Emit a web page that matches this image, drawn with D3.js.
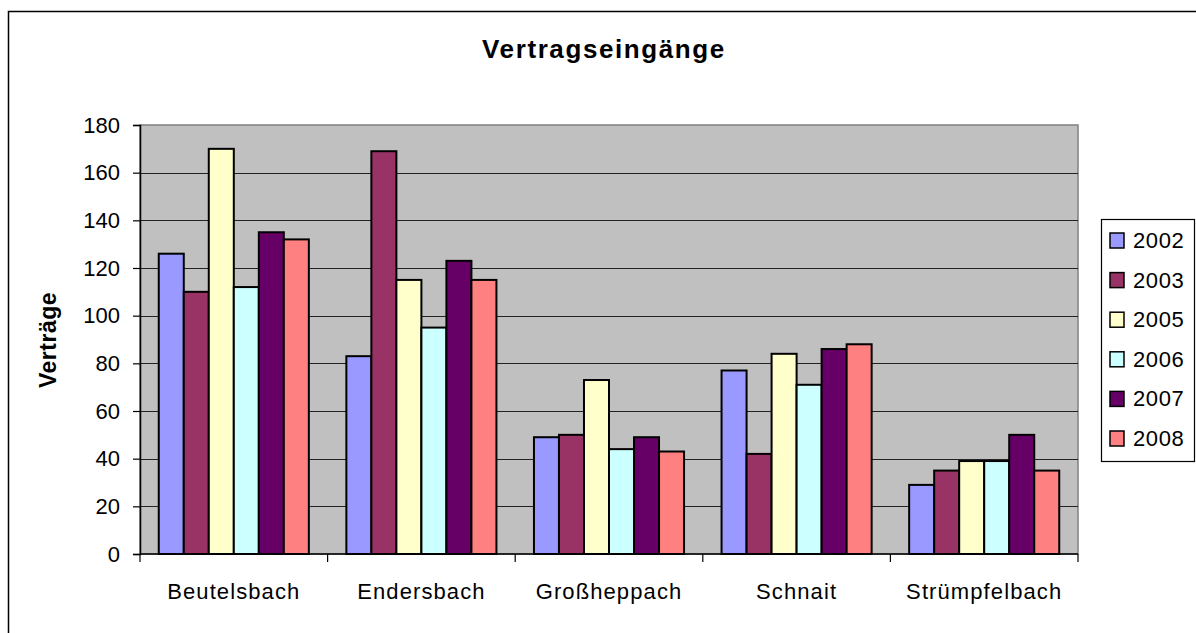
<!DOCTYPE html>
<html lang="de">
  <head>
    <meta charset="utf-8">
    <title>Vertragseingänge</title>
    <script src="https://d3js.org/d3.v7.min.js"></script>
    <style type="text/css">
      body { margin: 0; background: #fff; }
      text { font-family: "Liberation Sans", Arial, sans-serif; fill: #000; }
      .grid line { stroke-width: 1px; shape-rendering: crispEdges; }
      .bar { stroke: #000; stroke-width: 2px; }
    </style>
  </head>
  <body>
    <script>
      var w = 1196;
      var h = 633;

      var categories = ["Beutelsbach", "Endersbach", "Großheppach", "Schnait", "Strümpfelbach"];
      var years = ["2002", "2003", "2005", "2006", "2007", "2008"];
      var colors = ["#9999FF", "#993366", "#FFFFCC", "#CCFFFF", "#660066", "#FF8080"];

      // one array per year, same order as categories
      var v2002 = [126, 83, 49, 77, 29];
      var v2003 = [110, 169, 50, 42, 35];
      var v2005 = [170, 115, 73, 84, 39];
      var v2006 = [112, 95, 44, 71, 39];
      var v2007 = [135, 123, 49, 86, 50];
      var v2008 = [132, 115, 43, 88, 35];
      var yTicks = [0, 20, 40, 60, 80, 100, 120, 140, 160, 180];

      var series = [v2002, v2003, v2005, v2006, v2007, v2008];

      var plotL = 140, plotR = 1078, plotT = 125, plotB = 554;

      var svg = d3.select("body").append("svg")
          .attr("width", w).attr("height", h);

      // outer chart border
      svg.append("rect")
        .attr("x", 8.5).attr("y", 11.5)
        .attr("width", 1300).attr("height", 800)
        .attr("fill", "#fff").attr("stroke", "#000").attr("stroke-width", 1.5);

      var x0 = d3.scaleBand()
        .domain(categories)
        .range([plotL, plotR]);

      var gap = x0.bandwidth() * 0.1;
      var x1 = d3.scaleBand()
        .domain(years)
        .range([gap, x0.bandwidth() - gap]);

      var y = d3.scaleLinear()
        .domain([0, 180])
        .range([plotB, plotT]);

      // plot area
      svg.append("rect")
        .attr("x", plotL).attr("y", plotT)
        .attr("width", plotR - plotL).attr("height", plotB - plotT)
        .attr("fill", "#C0C0C0").attr("stroke", "#808080").attr("stroke-width", 1.5);

      svg.append("g").attr("class", "grid")
        .selectAll("line")
        .data(yTicks.filter(d => d > 0 && d < 180))
        .join("line")
        .attr("x1", plotL).attr("x2", plotR)
        .attr("y1", d => Math.round(y(d)) + 0.5).attr("y2", d => Math.round(y(d)) + 0.5)
        .attr("stroke", "#222");

      // bars
      var groups = svg.append("g")
        .selectAll("g")
        .data(categories)
        .join("g")
        .attr("transform", d => "translate(" + x0(d) + ",0)");

      groups.selectAll("rect")
        .data((c, i) => years.map((yr, j) => ({ year: yr, value: series[j][i], color: colors[j] })))
        .join("rect")
        .attr("class", "bar")
        .attr("x", d => x1(d.year))
        .attr("width", x1.bandwidth())
        .attr("y", d => y(d.value))
        .attr("height", d => y(0) - y(d.value))
        .attr("fill", d => d.color);

      // y axis
      var yAxis = d3.axisLeft(y).tickValues(yTicks).tickSize(7).tickPadding(13);
      var gy = svg.append("g")
        .attr("transform", "translate(" + plotL + ",0)")
        .call(yAxis);
      gy.select(".domain").attr("stroke", "#000").attr("stroke-width", 1.5);
      gy.selectAll(".tick line").attr("stroke", "#000").attr("stroke-width", 1.2);
      gy.selectAll(".tick text")
        .style("font-family", "Liberation Sans, Arial, sans-serif")
        .style("font-size", "22px").attr("fill", "#000");

      // x axis: category labels, ticks between groups
      var gx = svg.append("g")
        .attr("transform", "translate(0," + plotB + ")");
      gx.append("line")
        .attr("x1", plotL).attr("x2", plotR)
        .attr("stroke", "#000").attr("stroke-width", 1.5);
      gx.selectAll(".sep")
        .data(categories.map(c => x0(c)).concat([plotR]))
        .join("line")
        .attr("class", "sep")
        .attr("x1", d => d).attr("x2", d => d)
        .attr("y1", 0).attr("y2", 8)
        .attr("stroke", "#000").attr("stroke-width", 1.2);
      gx.selectAll(".lab")
        .data(categories)
        .join("text")
        .attr("class", "lab")
        .attr("x", d => x0(d) + x0.bandwidth() / 2)
        .attr("y", 45)
        .attr("text-anchor", "middle")
        .style("font-size", "22px")
        .style("letter-spacing", "1.1px")
        .text(d => d);

      // title
      svg.append("text")
        .attr("x", 604).attr("y", 58)
        .attr("text-anchor", "middle")
        .style("font-size", "26px").style("font-weight", "bold")
        .style("letter-spacing", "1.6px")
        .text("Vertragseingänge");

      // y axis title
      svg.append("text")
        .attr("transform", "translate(56,340) rotate(-90)")
        .attr("text-anchor", "middle")
        .style("font-size", "23px").style("font-weight", "bold")
        .style("letter-spacing", "0.5px")
        .text("Verträge");

      // legend
      var lg = svg.append("g");
      lg.append("rect")
        .attr("x", 1101.5).attr("y", 219.5)
        .attr("width", 93).attr("height", 242)
        .attr("fill", "#fff").attr("stroke", "#000").attr("stroke-width", 1.2);

      var items = lg.selectAll(".item")
        .data(years)
        .join("g")
        .attr("class", "item")
        .attr("transform", (d, i) => "translate(1110," + (233 + i * 39.6) + ")");
      items.append("rect")
        .attr("width", 14).attr("height", 15)
        .attr("fill", (d, i) => colors[i])
        .attr("stroke", "#000").attr("stroke-width", 1.5);
      items.append("text")
        .attr("x", 23).attr("y", 15)
        .style("font-size", "22px")
        .style("letter-spacing", "0.6px")
        .text(d => d);
    </script>
  </body>
</html>
